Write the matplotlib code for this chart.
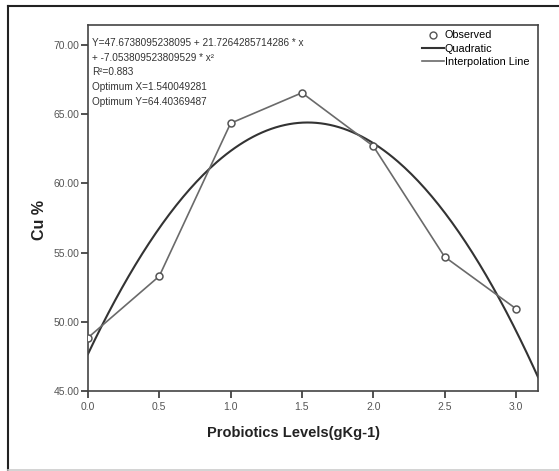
import matplotlib.pyplot as plt
import numpy as np
from matplotlib.lines import Line2D

plt.rcParams["font.family"] = ["Liberation Sans", "DejaVu Sans"]

# observed means per probiotic level
levels = [0.0, 0.5, 1.0, 1.5, 2.0, 2.5, 3.0]
cu_pct = [48.85, 53.3, 64.35, 66.55, 62.7, 54.7, 50.95]

# quadratic fit coefficients (b0, b1, b2) as reported on the chart
quad_coef = [47.6738095238095, 21.7264285714286, -7.053809523809529]

x_ticks = [0.0, 0.5, 1.0, 1.5, 2.0, 2.5, 3.0]
y_ticks = [45, 50, 55, 60, 65, 70]

fig = plt.figure(figsize=(5.59, 4.71), dpi=100)
ax = fig.add_axes([0.1574, 0.1699, 0.805, 0.777])

# ── fitted curve over the full x range ───────────────────────────────
x_max = 3.155
xs = np.linspace(0, x_max, 200)
ys = quad_coef[0] + quad_coef[1] * xs + quad_coef[2] * xs ** 2
ax.plot(xs, ys, color="#333333", linewidth=1.5, zorder=2)

# ── observed points joined by interpolation line ─────────────────────
ax.plot(levels, cu_pct, color="#6a6a6a", linewidth=1.2, zorder=3)
ax.plot(levels, cu_pct, linestyle="none", marker="o", markersize=5,
        markerfacecolor="white", markeredgecolor="#555555",
        markeredgewidth=1.1, zorder=4)

ax.set_xlim(0, x_max)
ax.set_ylim(45, 71.45)
ax.set_xticks(x_ticks)
ax.set_xticklabels([f"{t:.1f}" for t in x_ticks])
ax.set_yticks(y_ticks)
ax.set_yticklabels([f"{t:.2f}" for t in y_ticks])
ax.tick_params(direction="out", length=5, width=1.2, colors="#333333",
               labelsize=7.5, labelcolor="#555555")
ax.tick_params(axis="x", pad=3)
ax.tick_params(axis="y", pad=1)
for s in ax.spines.values():
    s.set_linewidth(1.2)
    s.set_color("#444444")

ax.set_xlabel("Probiotics Levels(gKg-1)", fontsize=10.5, fontweight="bold",
              color="#222222")
ax.xaxis.set_label_coords(0.456, -0.095)
ax.set_ylabel("Cu %", fontsize=11.5, fontweight="bold", color="#222222")
ax.yaxis.set_label_coords(-0.092, 0.467)

# ── equation text ────────────────────────────────────────────────────
eq_lines = [
    f"Y={quad_coef[0]!r} + {quad_coef[1]!r} * x",
    f"+ {quad_coef[2]!r} * x\u00b2",
    "R\u00b2=0.883",
    "Optimum X=1.540049281",
    "Optimum Y=64.40369487",
]
ax.text(0.01, 0.965, "\n".join(eq_lines), transform=ax.transAxes,
        fontsize=7.2, color="#333333", va="top", ha="left", linespacing=1.6)

# ── legend ───────────────────────────────────────────────────────────
handles = [
    Line2D([], [], linestyle="none", marker="o", markersize=5,
           markerfacecolor="white", markeredgecolor="#555555"),
    Line2D([], [], color="#333333", linewidth=1.5),
    Line2D([], [], color="#6a6a6a", linewidth=1.2),
]
ax.legend(handles, ["Observed", "Quadratic", "Interpolation Line"],
          loc="upper right", bbox_to_anchor=(0.995, 1.003), frameon=False,
          fontsize=7.8, handlelength=2.0, handletextpad=0.1,
          labelspacing=0.3, borderaxespad=0.2)

# ── outer frame of the chart panel ───────────────────────────────────
W, H = 559, 471
fig.add_artist(Line2D([8 / W, 1], [1 - 6 / H, 1 - 6 / H], color="#222222",
                      linewidth=1.5, transform=fig.transFigure))
fig.add_artist(Line2D([8 / W, 8 / W], [1 - 6 / H, 1 - 470 / H], color="#222222",
                      linewidth=1.5, transform=fig.transFigure))
fig.add_artist(Line2D([8 / W, 1], [1 - 469.5 / H, 1 - 469.5 / H], color="#cccccc",
                      linewidth=1.2, transform=fig.transFigure))

fig.savefig("out.png", dpi=100)
